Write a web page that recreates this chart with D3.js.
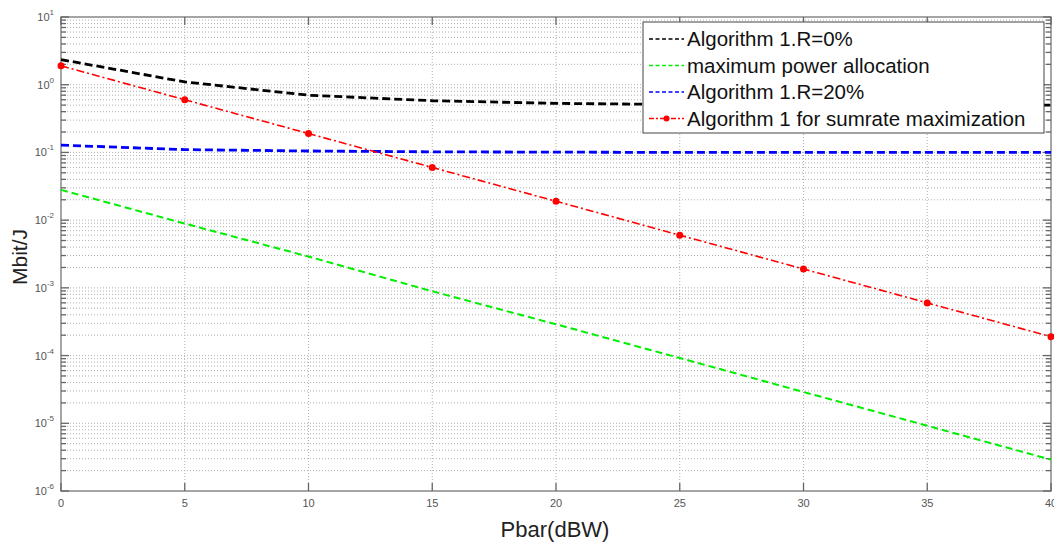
<!DOCTYPE html>
<html>
<head>
<meta charset="utf-8">
<script src="https://cdn.jsdelivr.net/npm/d3@7/dist/d3.min.js"></script>
<style>
  html, body { margin: 0; padding: 0; background: #fff; }
  svg { display: block; font-family: "Liberation Sans", Arial, sans-serif; }
</style>
</head>
<body>
<svg id="chart" width="1054" height="546"></svg>
<script>
// Transmit power levels (dBW)
const pbar = [0, 5, 10, 15, 20, 25, 30, 35, 40];

// Energy efficiency (Mbit/J) per scheme
const algR0 = [2.35, 1.1, 0.7, 0.58, 0.53, 0.51, 0.5, 0.5, 0.5];
const maxPower = [0.028, 0.0089, 0.0029, 0.00089, 0.00029, 0.000092, 0.000029, 0.0000092, 0.0000029];
const algR20 = [0.128, 0.11, 0.105, 0.102, 0.101, 0.1, 0.1, 0.1, 0.1];
const sumRate = [1.9, 0.6, 0.19, 0.06, 0.019, 0.006, 0.0019, 0.0006, 0.00019];

const xTicks = [0, 5, 10, 15, 20, 25, 30, 35, 40];
const yDecades = [-6, -5, -4, -3, -2, -1, 0, 1];

const seriesNames = ["Algorithm 1.R=0%", "maximum power allocation", "Algorithm 1.R=20%", "Algorithm 1 for sumrate maximization"];
const seriesValues = [algR0, maxPower, algR20, sumRate];

const styles = [
  { color: "#000000", width: 2.8, dash: "8,4", marker: false },
  { color: "#00ee00", width: 2, dash: "7,4", marker: false },
  { color: "#0000ff", width: 2.8, dash: "8,4", marker: false },
  { color: "#ff0000", width: 1.6, dash: "8,3,2,3", marker: true }
];

const svg = d3.select("#chart");
const m = { left: 61, right: 1051, top: 17, bottom: 491 };

const x = d3.scaleLinear().domain([0, 40]).range([m.left, m.right]);
const y = d3.scaleLog().domain([1e-6, 10]).range([m.bottom, m.top]);

// Grid: major and minor decades (dotted)
const gridG = svg.append("g");
const minorVals = [];
yDecades.forEach(d => {
  if (d < 1) for (let k = 1; k <= 9; k++) minorVals.push(k * Math.pow(10, d));
});
gridG.selectAll("line.h").data(minorVals.filter(v => v > 1e-6 && v < 10)).enter().append("line")
  .attr("x1", m.left).attr("x2", m.right)
  .attr("y1", d => y(d)).attr("y2", d => y(d))
  .attr("stroke", "#b0b0b0").attr("stroke-width", 1).attr("stroke-dasharray", "1,2");
gridG.selectAll("line.v").data(xTicks.slice(1, -1)).enter().append("line")
  .attr("x1", d => x(d)).attr("x2", d => x(d))
  .attr("y1", m.top).attr("y2", m.bottom)
  .attr("stroke", "#b0b0b0").attr("stroke-width", 1).attr("stroke-dasharray", "1,2");

// Axis box
svg.append("rect").attr("x", m.left).attr("y", m.top)
  .attr("width", m.right - m.left).attr("height", m.bottom - m.top)
  .attr("fill", "none").attr("stroke", "#888").attr("stroke-width", 1.5);

// Inward ticks on all four sides
const tickG = svg.append("g").attr("stroke", "#666").attr("stroke-width", 1.3);
minorVals.concat([10]).forEach(v => {
  const isMajor = Math.abs(Math.log10(v) - Math.round(Math.log10(v))) < 1e-9;
  const len = isMajor ? 8 : 5;
  const yy = y(v);
  tickG.append("line").attr("x1", m.left).attr("x2", m.left + len).attr("y1", yy).attr("y2", yy);
  tickG.append("line").attr("x1", m.right).attr("x2", m.right - len).attr("y1", yy).attr("y2", yy);
});
xTicks.forEach(t => {
  tickG.append("line").attr("x1", x(t)).attr("x2", x(t)).attr("y1", m.bottom).attr("y2", m.bottom - 8);
  tickG.append("line").attr("x1", x(t)).attr("x2", x(t)).attr("y1", m.top).attr("y2", m.top + 8);
});

// X tick labels
svg.append("g").selectAll("text").data(xTicks).enter().append("text")
  .attr("x", d => x(d)).attr("y", m.bottom + 16)
  .attr("text-anchor", "middle").attr("font-size", 11).attr("fill", "#555")
  .text(d => d);

// Y tick labels: 10 with superscript exponent
const yl = svg.append("g").selectAll("text").data(yDecades).enter().append("text")
  .attr("x", m.left - 7).attr("y", d => y(Math.pow(10, d)) + 4)
  .attr("text-anchor", "end").attr("font-size", 11).attr("fill", "#555");
yl.append("tspan").text("10");
yl.append("tspan").attr("dy", -6).attr("font-size", 8).text(d => d);

// Axis titles
svg.append("text").attr("x", (m.left + m.right) / 2 - 1).attr("y", 537)
  .attr("text-anchor", "middle").attr("font-size", 22).attr("fill", "#222").text("Pbar(dBW)");
svg.append("text").attr("transform", "translate(27,257) rotate(-90)")
  .attr("text-anchor", "middle").attr("font-size", 21).attr("fill", "#222").text("Mbit/J");

// Series lines
const line = d3.line().x((d, i) => x(pbar[i])).y(d => y(d));
const plotG = svg.append("g");
seriesValues.forEach((vals, si) => {
  const s = styles[si];
  plotG.append("path").datum(vals).attr("d", line)
    .attr("fill", "none").attr("stroke", s.color).attr("stroke-width", s.width)
    .attr("stroke-dasharray", s.dash);
  if (s.marker) {
    plotG.selectAll("circle.m" + si).data(vals).enter().append("circle")
      .attr("cx", (d, i) => x(pbar[i])).attr("cy", d => y(d)).attr("r", 3.5)
      .attr("fill", s.color);
  }
});

// Legend
const lg = svg.append("g");
const lgX = 643, lgY = 22, lgW = 401, lgH = 111;
lg.append("rect").attr("x", lgX).attr("y", lgY).attr("width", lgW).attr("height", lgH)
  .attr("fill", "#fff").attr("stroke", "#444").attr("stroke-width", 1);
seriesNames.forEach((name, i) => {
  const s = styles[i];
  const cy = lgY + 17 + i * 26.5;
  lg.append("line").attr("x1", lgX + 6).attr("x2", lgX + 41).attr("y1", cy).attr("y2", cy)
    .attr("stroke", s.color).attr("stroke-width", 1.3).attr("stroke-dasharray", s.marker ? "5,2,2,2" : "4,2.5");
  if (s.marker) lg.append("circle").attr("cx", lgX + 23.5).attr("cy", cy).attr("r", 3).attr("fill", s.color);
  lg.append("text").attr("x", lgX + 44).attr("y", cy + 7).attr("font-size", 20.5).attr("fill", "#111").text(name);
});
</script>
</body>
</html>
